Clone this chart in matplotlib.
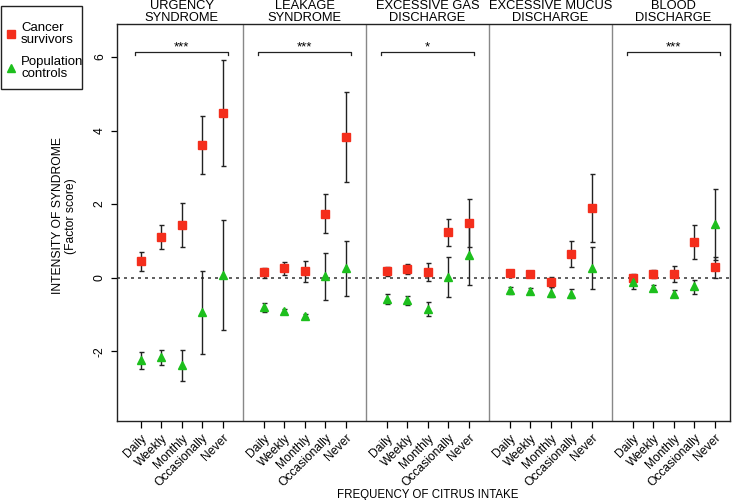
import matplotlib
matplotlib.use('Agg')
import matplotlib.pyplot as plt
from matplotlib.lines import Line2D
from matplotlib.patches import Rectangle

plt.rcParams['font.family'] = ['Liberation Sans', 'DejaVu Sans']

# categories / panels
freq = ['Daily', 'Weekly', 'Monthly', 'Occasionally', 'Never']
panels = ['URGENCY\nSYNDROME', 'LEAKAGE\nSYNDROME', 'EXCESSIVE GAS\nDISCHARGE',
          'EXCESSIVE MUCUS\nDISCHARGE', 'BLOOD\nDISCHARGE']
signif = ['***', '***', '*', '', '***']
groups = ['Cancer\nsurvivors', 'Population\ncontrols']

# cancer survivors: mean, lower, upper (one row per panel)
cs_mean = [[0.45, 1.11, 1.44, 3.61, 4.49],
           [0.15, 0.25, 0.17, 1.74, 3.83],
           [0.18, 0.24, 0.15, 1.23, 1.48],
           [0.13, 0.10, -0.11, 0.65, 1.89],
           [0.00, 0.10, 0.10, 0.97, 0.29]]
cs_low = [[0.19, 0.79, 0.84, 2.83, 3.04],
          [0.00, 0.06, -0.13, 1.21, 2.61],
          [0.04, 0.09, -0.09, 0.85, 0.83],
          [0.03, 0.01, -0.25, 0.29, 0.97],
          [-0.08, 0.00, -0.12, 0.52, 0.00]]
cs_high = [[0.71, 1.43, 2.04, 4.39, 5.91],
           [0.27, 0.42, 0.46, 2.27, 5.05],
           [0.30, 0.37, 0.41, 1.60, 2.13],
           [0.22, 0.19, 0.02, 1.00, 2.81],
           [0.09, 0.21, 0.33, 1.44, 0.56]]

# population controls
pc_mean = [[-2.24, -2.17, -2.39, -0.93, 0.07],
           [-0.81, -0.91, -1.03, 0.04, 0.27],
           [-0.57, -0.62, -0.84, 0.03, 0.62],
           [-0.34, -0.37, -0.42, -0.44, 0.27],
           [-0.13, -0.28, -0.44, -0.24, 1.45]]
pc_low = [[-2.49, -2.38, -2.80, -2.09, -1.43],
          [-0.93, -0.96, -1.08, -0.61, -0.50],
          [-0.72, -0.74, -1.05, -0.53, -0.20],
          [-0.44, -0.45, -0.52, -0.55, -0.31],
          [-0.32, -0.36, -0.53, -0.45, 0.48]]
pc_high = [[-2.03, -1.97, -1.98, 0.19, 1.56],
           [-0.70, -0.86, -0.98, 0.66, 0.99],
           [-0.44, -0.51, -0.67, 0.57, 1.44],
           [-0.25, -0.29, -0.26, -0.32, 0.84],
           [-0.02, -0.20, -0.34, -0.07, 2.40]]

red = '#F42E1C'
green = '#1DBF1D'

W, H = 740, 500
fig = plt.figure(figsize=(7.4, 5.0), dpi=100)
ax = fig.add_axes([117 / W, 1 - 421 / H, 613 / W, 397 / H])

xt, xl = [], []
for p in range(5):
    xs = [6 * p + i + 1 for i in range(5)]
    xt += xs
    xl += freq
    for mean, lo, hi, col, mk, ms in [(cs_mean, cs_low, cs_high, red, 's', 5.2),
                                      (pc_mean, pc_low, pc_high, green, '^', 6.2)]:
        m = mean[p]
        err = [[m[i] - lo[p][i] for i in range(5)], [hi[p][i] - m[i] for i in range(5)]]
        ax.errorbar(xs, m, yerr=err, fmt='none', ecolor='#222222', elinewidth=1.0,
                    capsize=1.8, capthick=1.0, zorder=3)
        ax.plot(xs, m, ls='none', marker=mk, ms=ms, color=col, mec=col, zorder=4)
    # panel title
    ax.text(6 * p + 3, 6.91, panels[p], ha='center', va='bottom', fontsize=9.3,
            linespacing=0.98, clip_on=False)
    # significance bracket
    if signif[p]:
        x0, x1 = 6 * p + 0.75, 6 * p + 5.25
        ax.plot([x0, x0, x1, x1], [6.06, 6.15, 6.15, 6.06], color='#222222', lw=0.9)
        ax.text(6 * p + 3, 6.1, signif[p], ha='center', va='bottom', fontsize=9.5)
    if p > 0:
        ax.axvline(6 * p, color='#888888', lw=1.0, zorder=1)

ax.axhline(0, color='#444444', lw=1.2, ls=(0, (1.8, 2.4)), zorder=2)

ax.set_xlim(-0.15, 29.75)
ax.set_ylim(-3.9, 6.9)
ax.set_yticks([-2, 0, 2, 4, 6])
ax.set_yticklabels(['-2', '0', '2', '4', '6'], rotation=90, va='center', fontsize=8.7)
ax.set_xticks(xt)
ax.set_xticklabels(xl, rotation=45, ha='right', va='top', rotation_mode='anchor',
                   fontsize=8.7)
ax.tick_params(axis='x', length=5, width=0.9, pad=3)
ax.tick_params(axis='y', length=4, width=0.9, pad=4)
for s in ax.spines.values():
    s.set_linewidth(1.0)
    s.set_color('#222222')

fig.text(64.5 / W, 1 - 216 / H, 'INTENSITY OF SYNDROME\n(Factor score)', rotation=90,
         ha='center', va='center', multialignment='center', fontsize=8.7, linespacing=1.15)
fig.text(428 / W, 1 - 495 / H, 'FREQUENCY OF CITRUS INTAKE', ha='center', va='center',
         fontsize=8.3)

# legend box drawn by hand so the markers sit between the two text lines
fig.patches.append(Rectangle((0.5 / W, 1 - 89 / H), 81.5 / W, 83 / H, transform=fig.transFigure,
                             fill=False, edgecolor='#222222', lw=1.0))
for k, (col, mk, ms, yc) in enumerate([(red, 's', 5.4, 34), (green, '^', 6.4, 68)]):
    fig.add_artist(Line2D([11 / W], [1 - yc / H], ls='none', marker=mk, ms=ms, color=col,
                          transform=fig.transFigure))
    fig.text(21 / W, 1 - yc / H, groups[k], ha='left', va='center', fontsize=9.5,
             linespacing=1.05)

fig.savefig('out.png', dpi=100)
